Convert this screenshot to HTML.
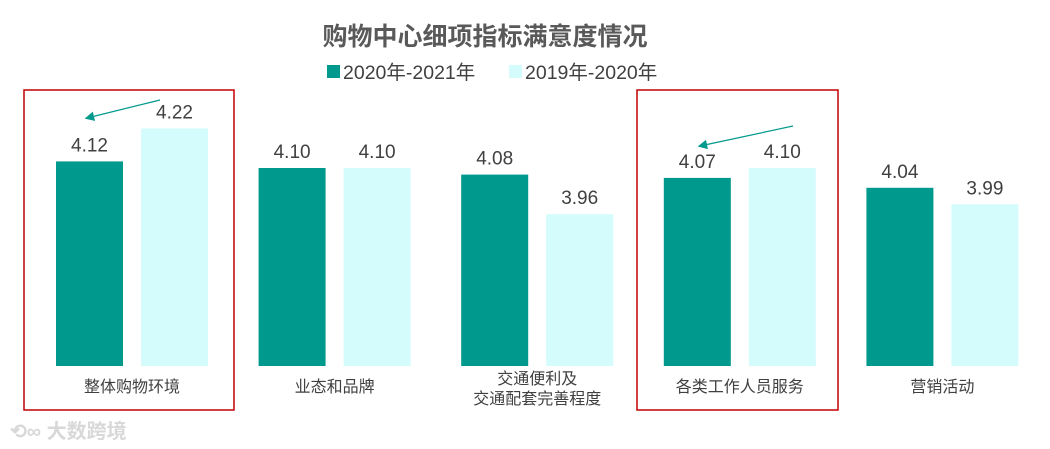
<!DOCTYPE html>
<html><head><meta charset="utf-8"><style>
body{margin:0;background:#fff;}
svg{display:block;font-family:"Liberation Sans","Noto Sans CJK SC",sans-serif;}
</style></head><body>
<svg id="c" width="1050" height="449">
<text x="485" y="45" text-anchor="middle" font-size="25" font-weight="bold" fill="#595959">购物中心细项指标满意度情况</text>
<g>
<rect x="327" y="65" width="13" height="13" fill="#00998E"/>
<text x="343" y="79" font-size="19.5" fill="#404040">2020年-2021年</text>
<rect x="509" y="65" width="13" height="13" fill="#D4FCFC"/>
<text x="525" y="79" font-size="19.5" fill="#404040">2019年-2020年</text>
</g>
<g id="bars"></g>
<rect x="24" y="90" width="210" height="320" fill="none" stroke="#C00000" stroke-width="1.5"/>
<rect x="637" y="90" width="201" height="320" fill="none" stroke="#C00000" stroke-width="1.5"/>
<defs><marker id="ah" markerWidth="8" markerHeight="8" refX="6" refY="4" orient="auto"><path d="M0,0 L8,4 L0,8 z" fill="#00998E"/></marker></defs>
<line x1="160" y1="100" x2="87" y2="118" stroke="#00998E" stroke-width="1.2" marker-end="url(#ah)"/>
<line x1="793" y1="126" x2="700" y2="146" stroke="#00998E" stroke-width="1.2" marker-end="url(#ah)"/>
<text x="10" y="438" font-size="20" font-weight="bold" fill="#d8d8d8">⟲∞ 大数跨境</text>
</svg>
<script>
const categories=["整体购物环境","业态和品牌","交通便利及|交通配套完善程度","各类工作人员服务","营销活动"];
const series2020=[4.12,4.10,4.08,4.07,4.04];
const series2019=[4.22,4.10,3.96,4.10,3.99];
const labels2020=["4.12","4.10","4.08","4.07","4.04"];
const labels2019=["4.22","4.10","3.96","4.10","3.99"];
const base=366,ymin=3.5,pxPerUnit=330;
const y=v=>base-(v-ymin)*pxPerUnit;
const cx=i=>132+i*202.6;
const g=document.getElementById('bars');
const NS="http://www.w3.org/2000/svg";
function mk(t,a){const e=document.createElementNS(NS,t);for(const k in a)e.setAttribute(k,a[k]);g.appendChild(e);return e;}
categories.forEach((c,i)=>{
 [[series2020,labels2020,"#00998E",-76,"2020"],[series2019,labels2019,"#D4FCFC",9,"2019"]].forEach(([s,l,col,off,nm])=>{
  const r=mk('rect',{x:cx(i)+off,y:y(s[i]),width:67,height:base-y(s[i]),fill:col});
  
  
  const t=mk('text',{x:cx(i)+off+33.5,y:y(s[i])-10,'text-anchor':'middle','font-size':19,fill:'#404040'});
  t.textContent=l[i];
  
  
 });
 const parts=c.split('|');
 parts.forEach((p,j)=>{
  const t=mk('text',{x:cx(i),y:(parts.length>1?384+j*20:392),'text-anchor':'middle','font-size':16,fill:'#404040'});
  t.textContent=p;
  
  
 });
});
</script>
</body></html>
